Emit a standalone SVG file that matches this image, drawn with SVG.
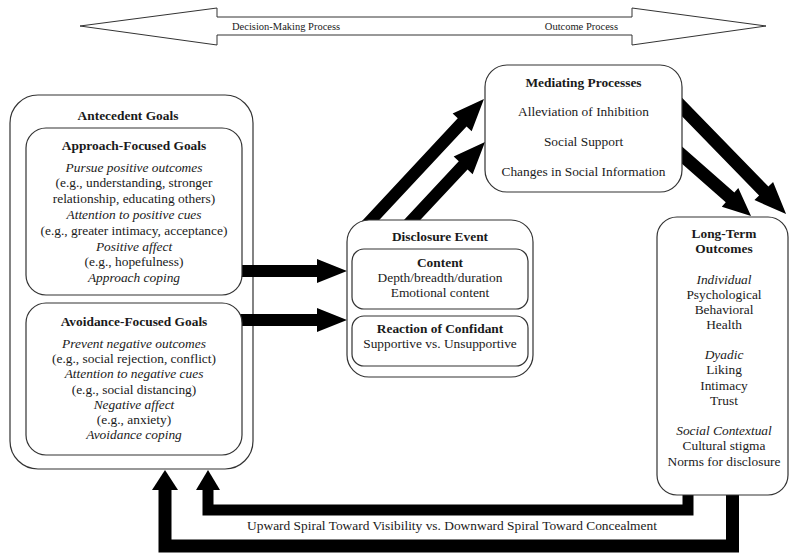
<svg xmlns="http://www.w3.org/2000/svg" width="791" height="555" viewBox="0 0 791 555">
<style>
text{font-family:"Liberation Serif","Times New Roman",serif;font-size:13.4px;fill:#1a1a1a;text-anchor:middle}
.b{font-weight:bold}
.i{font-style:italic}
.sm{font-size:10.5px;text-anchor:start}
.box{fill:#fff;stroke:#333;stroke-width:1.2}
.arr{fill:#000}
.ln{fill:none;stroke:#000;stroke-linejoin:miter;stroke-linecap:butt}
</style>
<rect width="791" height="555" fill="#fff"/>

<g id="node-antecedent">
<rect class="box" x="10" y="95" width="243" height="374" rx="28"/>
<text class="b" x="128" y="120">Antecedent Goals</text>
</g>

<g id="connectors">
<polygon class="arr" points="232,265 317,265 317,259 347,271 317,283 317,277 232,277"/>
<polygon class="arr" points="232,314 317,314 317,308 347,320 317,332 317,326 232,326"/>
<polygon class="arr" transform="translate(360.8,231) rotate(-47)" points="0,-6 148.6,-6 148.6,-13 180.6,0 148.6,13 148.6,6 0,6"/>
<polygon class="arr" transform="translate(401.8,231) rotate(-46.9)" points="0,-6 89.8,-6 89.8,-13 121.8,0 89.8,13 89.8,6 0,6"/>
<polygon class="arr" transform="translate(672.5,97.2) rotate(45.8)" points="0,-6.5 130.9,-6.5 130.9,-13 162.9,0 130.9,13 130.9,6.5 0,6.5"/>
<polygon class="arr" transform="translate(671.75,146.1) rotate(41.4)" points="0,-6.5 77.7,-6.5 77.7,-12.5 105.7,0 77.7,12.5 77.7,6.5 0,6.5"/>
<path class="ln" stroke-width="11" d="M688,488 V510 H208 V489"/>
<polygon class="arr" points="196,490 208,470 220,490"/>
<path class="ln" stroke-width="13" d="M732.5,488 V546 H165 V489"/>
<polygon class="arr" points="152,490 165,470 178,490"/>
</g>

<g id="node-approach">
<rect class="box" x="26" y="128" width="216" height="167" rx="20"/>
<text class="b" x="134" y="150">Approach-Focused Goals</text>
<text class="i" x="134" y="171.5">Pursue positive outcomes</text>
<text x="134" y="187.3">(e.g., understanding, stronger</text>
<text x="134" y="203.1">relationship, educating others)</text>
<text class="i" x="134" y="218.9">Attention to positive cues</text>
<text x="134" y="234.7">(e.g., greater intimacy, acceptance)</text>
<text class="i" x="134" y="250.5">Positive affect</text>
<text x="134" y="266.3">(e.g., hopefulness)</text>
<text class="i" x="134" y="282.1">Approach coping</text>
</g>

<g id="node-avoidance">
<rect class="box" x="26" y="303" width="216" height="152" rx="20"/>
<text class="b" x="134" y="326">Avoidance-Focused Goals</text>
<text class="i" x="134" y="347.5">Prevent negative outcomes</text>
<text x="134" y="363">(e.g., social rejection, conflict)</text>
<text class="i" x="134" y="378.3">Attention to negative cues</text>
<text x="134" y="393.5">(e.g., social distancing)</text>
<text class="i" x="134" y="408.7">Negative affect</text>
<text x="134" y="423.9">(e.g., anxiety)</text>
<text class="i" x="134" y="439.1">Avoidance coping</text>
</g>

<g id="node-disclosure">
<rect class="box" x="347" y="220" width="186" height="157" rx="22"/>
<text class="b" x="440" y="241">Disclosure Event</text>
<rect class="box" x="352" y="249" width="176" height="60" rx="12"/>
<text class="b" x="440" y="267">Content</text>
<text x="440" y="282">Depth/breadth/duration</text>
<text x="440" y="297">Emotional content</text>
<rect class="box" x="352" y="316" width="176" height="50" rx="12"/>
<text class="b" x="440" y="333">Reaction of Confidant</text>
<text x="440" y="348">Supportive vs. Unsupportive</text>
</g>

<g id="node-mediating">
<rect class="box" x="485" y="65" width="197" height="127" rx="22"/>
<text class="b" x="583.5" y="87">Mediating Processes</text>
<text x="583.5" y="116">Alleviation of Inhibition</text>
<text x="583.5" y="146">Social Support</text>
<text x="583.5" y="176">Changes in Social Information</text>
</g>

<g id="node-longterm">
<rect class="box" x="657" y="217" width="131" height="278" rx="20"/>
<text class="b" x="724" y="237.5">Long-Term</text>
<text class="b" x="724" y="252.5">Outcomes</text>
<text class="i" x="724" y="283.5">Individual</text>
<text x="724" y="298.5">Psychological</text>
<text x="724" y="313.5">Behavioral</text>
<text x="724" y="329">Health</text>
<text class="i" x="724" y="358.5">Dyadic</text>
<text x="724" y="374">Liking</text>
<text x="724" y="389.5">Intimacy</text>
<text x="724" y="404.5">Trust</text>
<text class="i" x="724" y="434.5">Social Contextual</text>
<text x="724" y="450">Cultural stigma</text>
<text x="724" y="465.5">Norms for disclosure</text>
</g>

<g id="label-spiral">
<text x="452" y="530">Upward Spiral Toward Visibility vs. Downward Spiral Toward Concealment</text>
</g>

<g id="process-arrow">
<polygon fill="#fff" stroke="#333" stroke-width="1" points="80,26 217,8 217,17 632,17 632,8 766,26 632,45 632,35 217,35 217,45"/>
<text class="sm" x="232" y="30">Decision-Making Process</text>
<text class="sm" x="618" y="30" style="text-anchor:end">Outcome Process</text>
</g>
</svg>
